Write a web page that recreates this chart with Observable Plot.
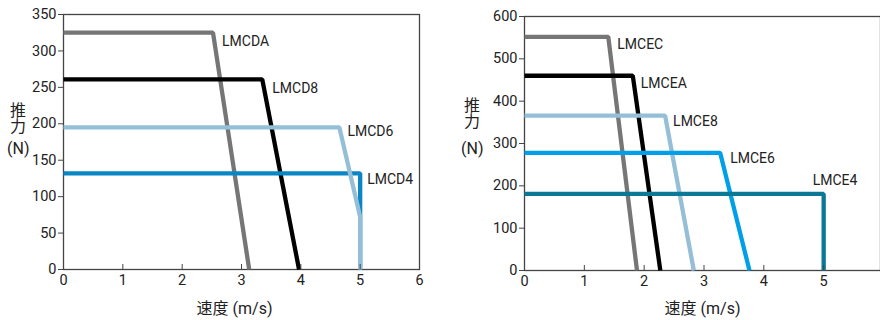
<!DOCTYPE html>
<html><head><meta charset="utf-8">
<script src="https://cdn.jsdelivr.net/npm/d3@7"></script>
<script src="https://cdn.jsdelivr.net/npm/@observablehq/plot@0.6"></script>
<style>
body{margin:0;background:#fff;overflow:hidden;}
#wrap{position:relative;width:880px;height:320px;display:flex;}
.panel{position:relative;width:440px;height:320px;}
.ylab{position:absolute;font-family:"Noto Sans CJK SC",sans-serif;font-size:16px;color:#222;line-height:16px;width:16px;writing-mode:vertical-rl;letter-spacing:-0.5px;}
.ylabN{position:absolute;font-family:Roboto,sans-serif;font-size:16px;color:#222;line-height:16px;}
</style></head>
<body><div id="wrap"><div class="panel" id="left"></div><div class="panel" id="right"></div></div>
<script>
// ---- data ----
const xTicks = [0,1,2,3,4,5,6];
const leftYTicks = [0,50,100,150,200,250,300,350];
const rightYTicks = [0,100,200,300,400,500,600];

const lmcdaX = [0, 2.52, 3.13];   const lmcdaY = [325, 325, 0];
const lmcd8X = [0, 3.35, 3.97];   const lmcd8Y = [261, 261, 0];
const lmcd4X = [0, 5, 5];         const lmcd4Y = [132, 132, 0];
const lmcd6X = [0, 4.65, 5, 5];   const lmcd6Y = [195, 195, 72, 0];

const lmcecX = [0, 1.40, 1.88];   const lmcecY = [552, 552, 0];
const lmceaX = [0, 1.81, 2.27];   const lmceaY = [460, 460, 0];
const lmce8X = [0, 2.35, 2.83];   const lmce8Y = [366, 366, 0];
const lmce6X = [0, 3.27, 3.76];   const lmce6Y = [278, 278, 0];
const lmce4X = [0, 5, 5];         const lmce4Y = [181, 181, 0];

const leftNames  = ["LMCDA","LMCD8","LMCD4","LMCD6"];
const rightNames = ["LMCEC","LMCEA","LMCE8","LMCE6","LMCE4"];
const xLabel = "速度 (m/s)";
const yLabelTop = "推力";
const yLabelUnit = "(N)";

// ---- styling ----
const colors = {
  LMCDA:"#767676", LMCD8:"#000000", LMCD4:"#0a86c4", LMCD6:"#94bfd7",
  LMCEC:"#767676", LMCEA:"#000000", LMCE8:"#94bfd7", LMCE6:"#00a0e9", LMCE4:"#0b7896"
};
// label offsets (px) from the line's knee point
const labelOffsets = {
  LMCDA:[9,9], LMCD8:[10,9], LMCD6:[8,4], LMCD4:[7,6],
  LMCEC:[9,8], LMCEA:[8,8], LMCE8:[8,6], LMCE6:[10,6], LMCE4:[-11,-13]
};

function series(name, xs, ys){ return xs.map((x,i)=>({name, x, y: ys[i]})); }

const leftSeries = [
  series(leftNames[0], lmcdaX, lmcdaY),
  series(leftNames[1], lmcd8X, lmcd8Y),
  series(leftNames[2], lmcd4X, lmcd4Y),
  series(leftNames[3], lmcd6X, lmcd6Y)
];
const rightSeries = [
  series(rightNames[0], lmcecX, lmcecY),
  series(rightNames[1], lmceaX, lmceaY),
  series(rightNames[2], lmce8X, lmce8Y),
  series(rightNames[3], lmce6X, lmce6Y),
  series(rightNames[4], lmce4X, lmce4Y)
];

const font = "Roboto, 'Noto Sans CJK SC', sans-serif";

function chart(seriesList, yDomain, yTicks, opts){
  const marks = [];
  marks.push(Plot.frame({stroke:"#444", strokeWidth:1.3}));
  for (const s of seriesList){
    marks.push(Plot.line(s, {x:"x", y:"y", stroke: colors[s[0].name], strokeWidth:4.3, strokeLinejoin:"miter", strokeLinecap:"butt"}));
  }
  for (const s of seriesList){
    const knee = s[1];
    const [dx,dy] = labelOffsets[knee.name];
    marks.push(Plot.text([knee], {x:"x", y:"y", text:"name", dx, dy, textAnchor:"start", fontSize:14, fill:"#222", fontFamily:font}));
  }
  marks.push(Plot.axisY(yTicks, {tickSize:5, tickPadding:2, fontSize:14.5, color:"#222", stroke:"#444", label:null, fontFamily:font}));
  marks.push(Plot.axisX(xTicks, {tickSize:-5, tickPadding:10, fontSize:14.5, color:"#222", stroke:"#444", label:null, fontFamily:font}));
  marks.push(Plot.text([xLabel], {frameAnchor:"bottom", lineAnchor:"bottom", dy: opts.xLabelDy, dx: opts.xLabelDx, fontSize:16, fill:"#222", fontFamily:font}));
  return Plot.plot({
    width:440, height:320,
    marginTop: opts.mt, marginBottom: opts.mb, marginLeft: opts.ml, marginRight: opts.mr,
    style:{background:"transparent", overflow:"visible", fontFamily:font},
    x:{domain:[0,6], range: opts.xRange, label:null},
    y:{domain:yDomain, label:null},
    marks
  });
}

const left = chart(leftSeries, [0,350], leftYTicks, {mt:14, mb:51, ml:63, mr:21, xLabelDy:44, xLabelDx:-7});
const right = chart(rightSeries, [0,600], rightYTicks, {mt:16, mb:50, ml:84, mr:0, xRange:[84,443], xLabelDy:43, xLabelDx:0});
document.getElementById("left").appendChild(left);
document.getElementById("right").appendChild(right);

function ylabel(parent, cx, top, nTop){
  const p = document.getElementById(parent);
  const a = document.createElement("div"); a.className="ylab"; a.textContent=yLabelTop;
  a.style.left=(cx-8)+"px"; a.style.top=top+"px"; p.appendChild(a);
  const c = document.createElement("div"); c.className="ylabN"; c.textContent=yLabelUnit;
  c.style.left=(cx-11)+"px"; c.style.top=nTop+"px"; p.appendChild(c);
}
ylabel("left", 18, 102, 141);
ylabel("right", 32, 97, 141);
</script></body></html>
